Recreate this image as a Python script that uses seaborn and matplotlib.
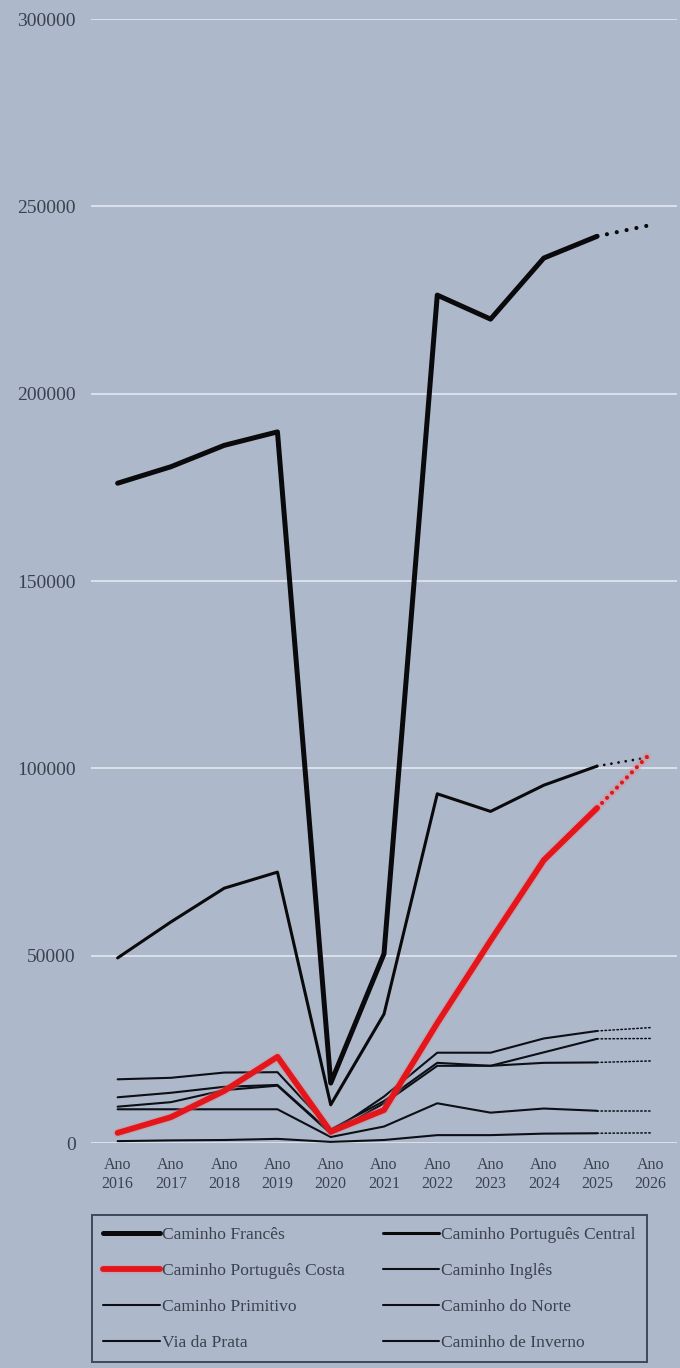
import matplotlib
matplotlib.use("Agg")
import matplotlib.pyplot as plt
import matplotlib.patheffects as pe
import seaborn as sns
import pandas as pd

# Pilgrim counts per route, 2016-2025 recorded, 2026 projected
years = [2016, 2017, 2018, 2019, 2020, 2021, 2022, 2023, 2024, 2025, 2026]
year_labels = [f"Ano\n{y}" for y in years]

frances = [176100, 180500, 186200, 189800, 16000, 50500, 226300, 219900, 236200, 242000, 245000]
portugues_central = [49400, 59000, 68000, 72300, 10200, 34400, 93200, 88500, 95500, 100600, 103000]
portugues_costa = [2700, 6900, 13900, 23000, 3000, 8800, 32000, 54000, 75500, 89400, 104000]
ingles = [9700, 10900, 14100, 15300, 2500, 10600, 20600, 20600, 24200, 27800, 27900]
primitivo = [12200, 13400, 15000, 15500, 2800, 12400, 24100, 24100, 27900, 29900, 30800]
norte = [17000, 17400, 18800, 18900, 3600, 11200, 21400, 20600, 21400, 21500, 21900]
via_prata = [9000, 9000, 9000, 9000, 1600, 4400, 10600, 8100, 9200, 8600, 8600]
invierno = [500, 700, 800, 1100, 300, 800, 2100, 2100, 2500, 2600, 2700]

route_names = [
    "Caminho Francês", "Caminho Português Central", "Caminho Português Costa",
    "Caminho Inglês", "Caminho Primitivo", "Caminho do Norte",
    "Via da Prata", "Caminho de Inverno",
]
route_values = [frances, portugues_central, portugues_costa, ingles,
                primitivo, norte, via_prata, invierno]

yticks = [0, 50000, 100000, 150000, 200000, 250000, 300000]

BG = "#adb9ca"
TXT = "#3b414e"

sns.set_theme(style="white")
plt.rcParams["font.family"] = ["Liberation Serif", "DejaVu Serif"]

# line styling per route: (colour, solid width, dotted width, dotted pattern)
styles = {
    "Caminho Francês": ("#0a0a0d", 3.6, 3.0, (0, (0.01, 2.4))),
    "Caminho Português Central": ("#0a0a0d", 2.2, 2.0, (0, (0.01, 2.6))),
    "Caminho Português Costa": ("#e3161b", 4.2, 3.0, (0, (0.01, 1.7))),
}
thin = ("#0d0f16", 1.5, 1.1, (0, (1, 1.6)))

frames = []
for name, vals in zip(route_names, route_values):
    frames.append(pd.DataFrame({"ano": years, "peregrinos": vals, "rota": name}))
df = pd.concat(frames, ignore_index=True)

fig = plt.figure(figsize=(6.8, 13.68), dpi=100, facecolor=BG)
ax = fig.add_axes([91 / 680, 225 / 1368, 586 / 680, 1124 / 1368])
ax.set_facecolor(BG)

for name in route_names:
    color, lw, dlw, dpat = styles.get(name, thin)
    sub = df[df["rota"] == name]
    solid = sub[sub["ano"] <= 2025]
    proj = sub[sub["ano"] >= 2025]
    effects = None
    if name == "Caminho Português Costa":
        effects = [pe.Stroke(linewidth=lw + 2.0, foreground="#e4838c", alpha=0.35), pe.Normal()]
    sns.lineplot(data=solid, x="ano", y="peregrinos", ax=ax, color=color,
                 linewidth=lw, label=name, solid_capstyle="round",
                 solid_joinstyle="round", path_effects=effects,
                 zorder=4 if name == "Caminho Português Costa" else 3)
    sns.lineplot(data=proj, x="ano", y="peregrinos", ax=ax, color=color,
                 linewidth=dlw, linestyle=dpat, dash_capstyle="round",
                 path_effects=effects, zorder=3)

ax.set_xlim(2015.5, 2026.5)
ax.set_ylim(0, 300000)
ax.set_xticks(years)
ax.set_xticklabels(year_labels, fontsize=11.5, color=TXT, linespacing=1.3)
ax.set_yticks(yticks)
ax.set_yticklabels([str(v) for v in yticks], fontsize=14, color=TXT)
ax.tick_params(axis="both", length=0)
ax.tick_params(axis="y", pad=11)
ax.tick_params(axis="x", pad=10)
ax.set_xlabel("")
ax.set_ylabel("")
ax.yaxis.grid(True, color="#e9edf3", linewidth=1.1)
ax.xaxis.grid(False)
for s in ax.spines.values():
    s.set_visible(False)

handles, labels = ax.get_legend_handles_labels()
ax.get_legend().remove()
order = [0, 2, 4, 6, 1, 3, 5, 7]
leg = fig.legend([handles[i] for i in order], [labels[i] for i in order],
                 ncol=2, loc="upper left",
                 bbox_to_anchor=(92 / 680, 6 / 1368, 555 / 680, 147 / 1368),
                 mode="expand", fontsize=12.6, frameon=True, fancybox=False,
                 handlelength=3.25, handletextpad=0.1, labelspacing=1.13,
                 borderpad=0.65, borderaxespad=0)
leg.get_frame().set_facecolor(BG)
leg.get_frame().set_edgecolor("#232b40")
leg.get_frame().set_linewidth(1.4)
for t in leg.get_texts():
    t.set_color(TXT)

fig.savefig("out.png", dpi=100, facecolor=BG)
